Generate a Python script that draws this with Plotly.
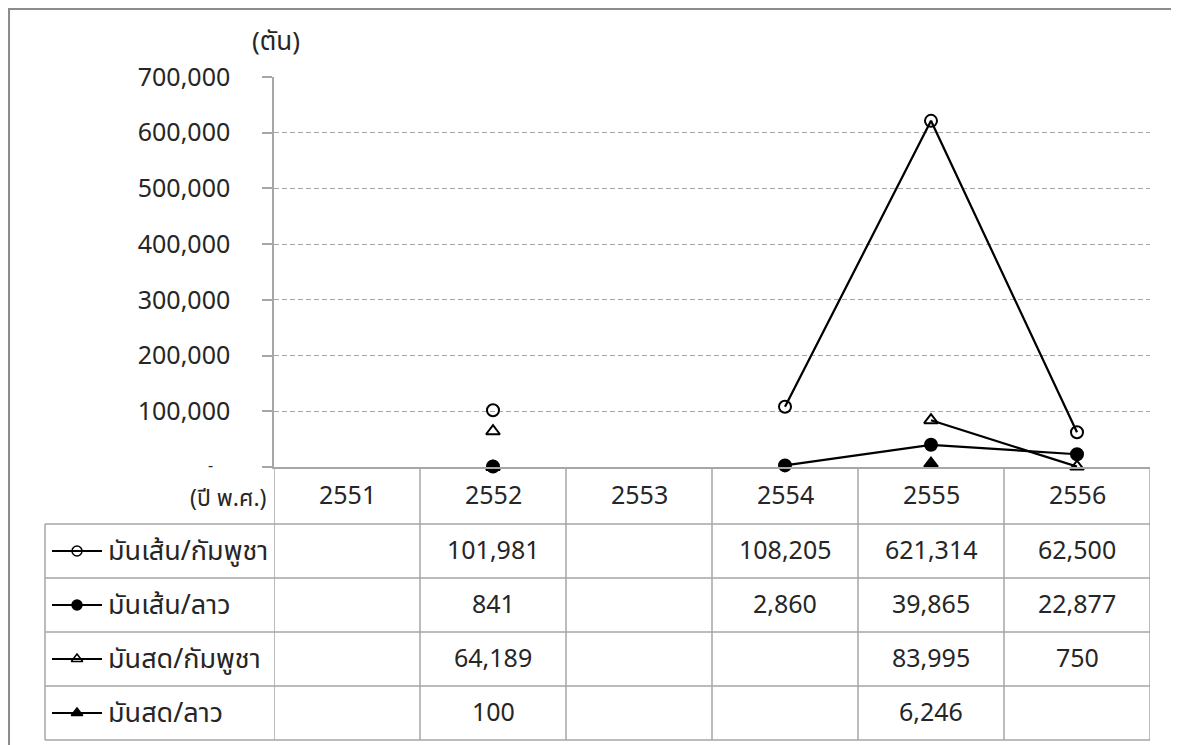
import plotly.graph_objects as go

# ---------------- data ----------------
years = ["2551", "2552", "2553", "2554", "2555", "2556"]
series_names = ["มันเส้น/กัมพูชา", "มันเส้น/ลาว", "มันสด/กัมพูชา", "มันสด/ลาว"]
cassava_chip_cambodia = [None, 101981, None, 108205, 621314, 62500]
cassava_chip_laos = [None, 841, None, 2860, 39865, 22877]
fresh_cassava_cambodia = [None, 64189, None, None, 83995, 750]
fresh_cassava_laos = [None, 100, None, None, 6246, None]
y_tick_values = [0, 100000, 200000, 300000, 400000, 500000, 600000, 700000]
y_unit_label = "(ตัน)"
x_unit_label = "(ปี พ.ศ.)"
zero_label = "-"

series_values = [cassava_chip_cambodia, cassava_chip_laos,
                 fresh_cassava_cambodia, fresh_cassava_laos]

# ---------------- style / layout ----------------
OFF = 8                                  # page body margin of the html
W, H = 1179 - OFF, 745 - OFF             # figure size so it fits the window


def X(p):  # reference pixel x -> figure pixel x
    return p - OFF


def Y(p):  # reference pixel y -> figure pixel y
    return p - OFF


PL, PR, PT, PB = 274, 1150, 77, 467          # plot area (reference pixels)
TABLE_LEFT = 45
HEADER_BOTTOM = 524
ROW_EDGES = [524, 578, 632, 686, 740]
FONT = "Tahoma, 'Noto Sans Thai', 'Noto Sans', 'DejaVu Sans', sans-serif"
TXT = "#262626"
GRID = "#a6a6a6"
TABLE_LINE = "#a6a6a6"
NUM_SIZE = 25
THAI_SIZE = 27
symbols = ["circle-open", "circle", "triangle-up-open", "triangle-up"]

fig = go.Figure()

n = len(years)
xs = list(range(n))
for name, vals, sym in zip(series_names, series_values, symbols):
    fig.add_trace(go.Scatter(
        x=xs, y=vals, mode="lines+markers", name=name,
        line=dict(color="black", width=2.25),
        marker=dict(symbol=sym, size=12, color="black",
                    line=dict(color="black", width=2)),
        connectgaps=False, cliponaxis=False, showlegend=False,
        xaxis="x", yaxis="y"))

# legend keys inside the table (pixel overlay axes x2/y2)
for i, (name, sym) in enumerate(zip(series_names, symbols)):
    yc = Y((ROW_EDGES[i] + ROW_EDGES[i + 1]) / 2)
    fig.add_trace(go.Scatter(
        x=[X(52), X(102)], y=[yc, yc], mode="lines",
        line=dict(color="black", width=2), showlegend=False,
        hoverinfo="skip", xaxis="x2", yaxis="y2"))
    fig.add_trace(go.Scatter(
        x=[X(77)], y=[yc], mode="markers",
        marker=dict(symbol=sym, size=10, color="black",
                    line=dict(color="black", width=1.5)),
        showlegend=False, hoverinfo="skip", xaxis="x2", yaxis="y2"))
    fig.add_annotation(x=X(106), y=yc, xref="x2", yref="y2", text=name,
                       showarrow=False, xanchor="left", yanchor="middle",
                       font=dict(family=FONT, size=THAI_SIZE, color=TXT))
    for j, v in enumerate(series_values[i]):
        if v is not None:
            fig.add_annotation(x=j, y=yc, xref="x", yref="y2", text=f"{v:,}",
                               showarrow=False, xanchor="center", yanchor="middle",
                               font=dict(family=FONT, size=NUM_SIZE, color=TXT))

# header row: years
for j, yr in enumerate(years):
    fig.add_annotation(x=j, y=Y((PB + HEADER_BOTTOM) / 2), xref="x", yref="y2", text=yr,
                       showarrow=False, xanchor="center", yanchor="middle",
                       font=dict(family=FONT, size=NUM_SIZE, color=TXT))
fig.add_annotation(x=X(268), y=Y((PB + HEADER_BOTTOM) / 2 + 3), xref="x2", yref="y2",
                   text=x_unit_label, showarrow=False, xanchor="right", yanchor="middle",
                   font=dict(family=FONT, size=23, color=TXT))
fig.add_annotation(x=X(276), y=Y(42), xref="x2", yref="y2", text=y_unit_label,
                   showarrow=False, xanchor="center", yanchor="middle",
                   font=dict(family=FONT, size=26, color=TXT))
# zero tick label "-" (Excel accounting style)
fig.add_annotation(x=X(215), y=Y(466), xref="x2", yref="y2", text=zero_label,
                   showarrow=False, xanchor="right", yanchor="middle",
                   font=dict(family=FONT, size=16, color=TXT))

shapes = []
# vertical table lines at category boundaries
for j in range(n + 1):
    shapes.append(dict(type="line", xref="x", yref="y2", x0=j - 0.5, x1=j - 0.5,
                       y0=Y(PB), y1=Y(ROW_EDGES[-1]), line=dict(color=TABLE_LINE, width=1.5)))
# horizontal row lines
for ye in ROW_EDGES:
    shapes.append(dict(type="line", xref="x2", yref="y2", x0=X(TABLE_LEFT), x1=X(PR),
                       y0=Y(ye), y1=Y(ye), line=dict(color=TABLE_LINE, width=1.5)))
# table left edge
shapes.append(dict(type="line", xref="x2", yref="y2", x0=X(TABLE_LEFT), x1=X(TABLE_LEFT),
                   y0=Y(ROW_EDGES[0]), y1=Y(ROW_EDGES[-1]),
                   line=dict(color=TABLE_LINE, width=1.5)))
# outer chart border (top and left visible)
shapes.append(dict(type="line", xref="x2", yref="y2", x0=0.5, x1=W, y0=0.5, y1=0.5,
                   line=dict(color="#8c8c8c", width=3)))
shapes.append(dict(type="line", xref="x2", yref="y2", x0=0.8, x1=0.8, y0=0, y1=H,
                   line=dict(color="#8c8c8c", width=2.5)))

ticktext = [("" if v == 0 else f"{v:,}") for v in y_tick_values]

fig.update_layout(
    width=W, height=H, autosize=False,
    margin=dict(l=0, r=0, t=0, b=0, pad=0, autoexpand=False),
    paper_bgcolor="white", plot_bgcolor="rgba(0,0,0,0)",
    font=dict(family=FONT, size=NUM_SIZE, color=TXT),
    shapes=shapes,
    xaxis=dict(domain=[X(PL) / W, X(PR) / W], range=[-0.5, n - 0.5],
               showticklabels=False, showgrid=False, zeroline=False,
               showline=True, linecolor=GRID, linewidth=1.5, ticks="",
               anchor="y", fixedrange=True, automargin=False),
    yaxis=dict(domain=[1 - Y(PB) / H, 1 - Y(PT) / H], range=[0, 700000],
               tickvals=y_tick_values, ticktext=ticktext,
               showgrid=True, gridcolor=GRID, griddash="5px,3px", gridwidth=1,
               zeroline=False, showline=True, linecolor=GRID, linewidth=1.5,
               ticks="outside", ticklen=10, tickcolor=GRID, tickwidth=1.5,
               ticklabelstandoff=27,
               tickfont=dict(family=FONT, size=NUM_SIZE, color=TXT),
               anchor="x", fixedrange=True, automargin=False),
    xaxis2=dict(domain=[0, 1], range=[0, W], visible=False, anchor="y2",
                fixedrange=True, automargin=False),
    yaxis2=dict(domain=[0, 1], range=[H, 0], visible=False, anchor="x2",
                fixedrange=True, automargin=False),
)

fig.write_html("out.html")
